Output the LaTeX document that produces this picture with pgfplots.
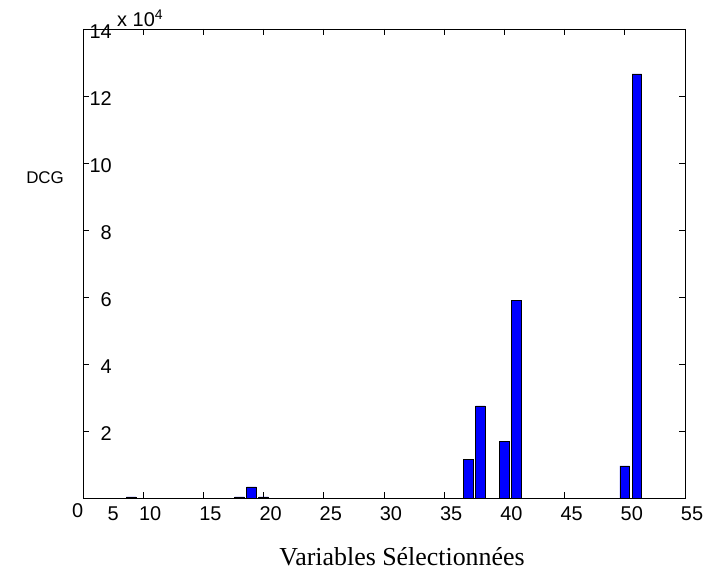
\documentclass[border=0pt]{standalone}
\usepackage{fontspec}
\setmainfont{Liberation Sans}
\newfontfamily\seriffont{Liberation Serif}
\usepackage{pgfplots}
\pgfplotsset{compat=1.18}
\begin{document}
\begin{tikzpicture}
\path[use as bounding box] (0,0) rectangle (704bp,573bp);
\begin{axis}[at={(83bp,75bp)}, anchor=south west, scale only axis,
  width=602bp, height=469bp,
  xmin=5, xmax=55, ymin=0, ymax=140000,
  xtick={5,10,...,55}, xticklabels={,10,15,20,25,30,35,40,45,50,55},
  ytick={0,20000,...,140000}, yticklabels={,2,4,6,8,10,12,14},
  scaled y ticks=false,
  tick align=inside, major tick length=6bp,
  ticklabel style={font=\fontsize{20}{22}\selectfont},
  xticklabel style={xshift=7bp, yshift=-5bp},
  yticklabel style={anchor=east, inner sep=0pt, xshift=29bp, yshift=-3bp},
  axis line style={line width=0.8bp}, tick style={line width=0.8bp, black},
  xlabel={Variables Sélectionnées},
  xlabel style={font=\seriffont\fontsize{26}{30}\selectfont,
    at={(axis description cs:0.53,-0.126)}, anchor=center},
  ylabel={DCG},
  ylabel style={font=\fontsize{17}{20}\selectfont, rotate=-90,
    at={(axis description cs:-0.063,0.682)}, anchor=center},
  clip=false]
\addplot[ybar, bar width=0.8, fill=blue, draw=black, line width=0.6bp] coordinates
 {(9,300) (18,300) (19,3300) (20,300) (37,11550) (38,27500)
  (40,16900) (41,58900) (50,9600) (51,126600)};
\node[font=\fontsize{20}{22}\selectfont] at (axis cs:4.56,0) [yshift=-13bp] {0};
\node[font=\fontsize{20}{22}\selectfont] at (axis cs:7.5,0) [yshift=-16bp] {5};
\node[font=\fontsize{20}{22}\selectfont, anchor=base west, inner sep=0pt]
  at (axis cs:5,140000) [xshift=34bp, yshift=2bp] {x 10\textsuperscript{4}};
\end{axis}
\end{tikzpicture}
\end{document}
